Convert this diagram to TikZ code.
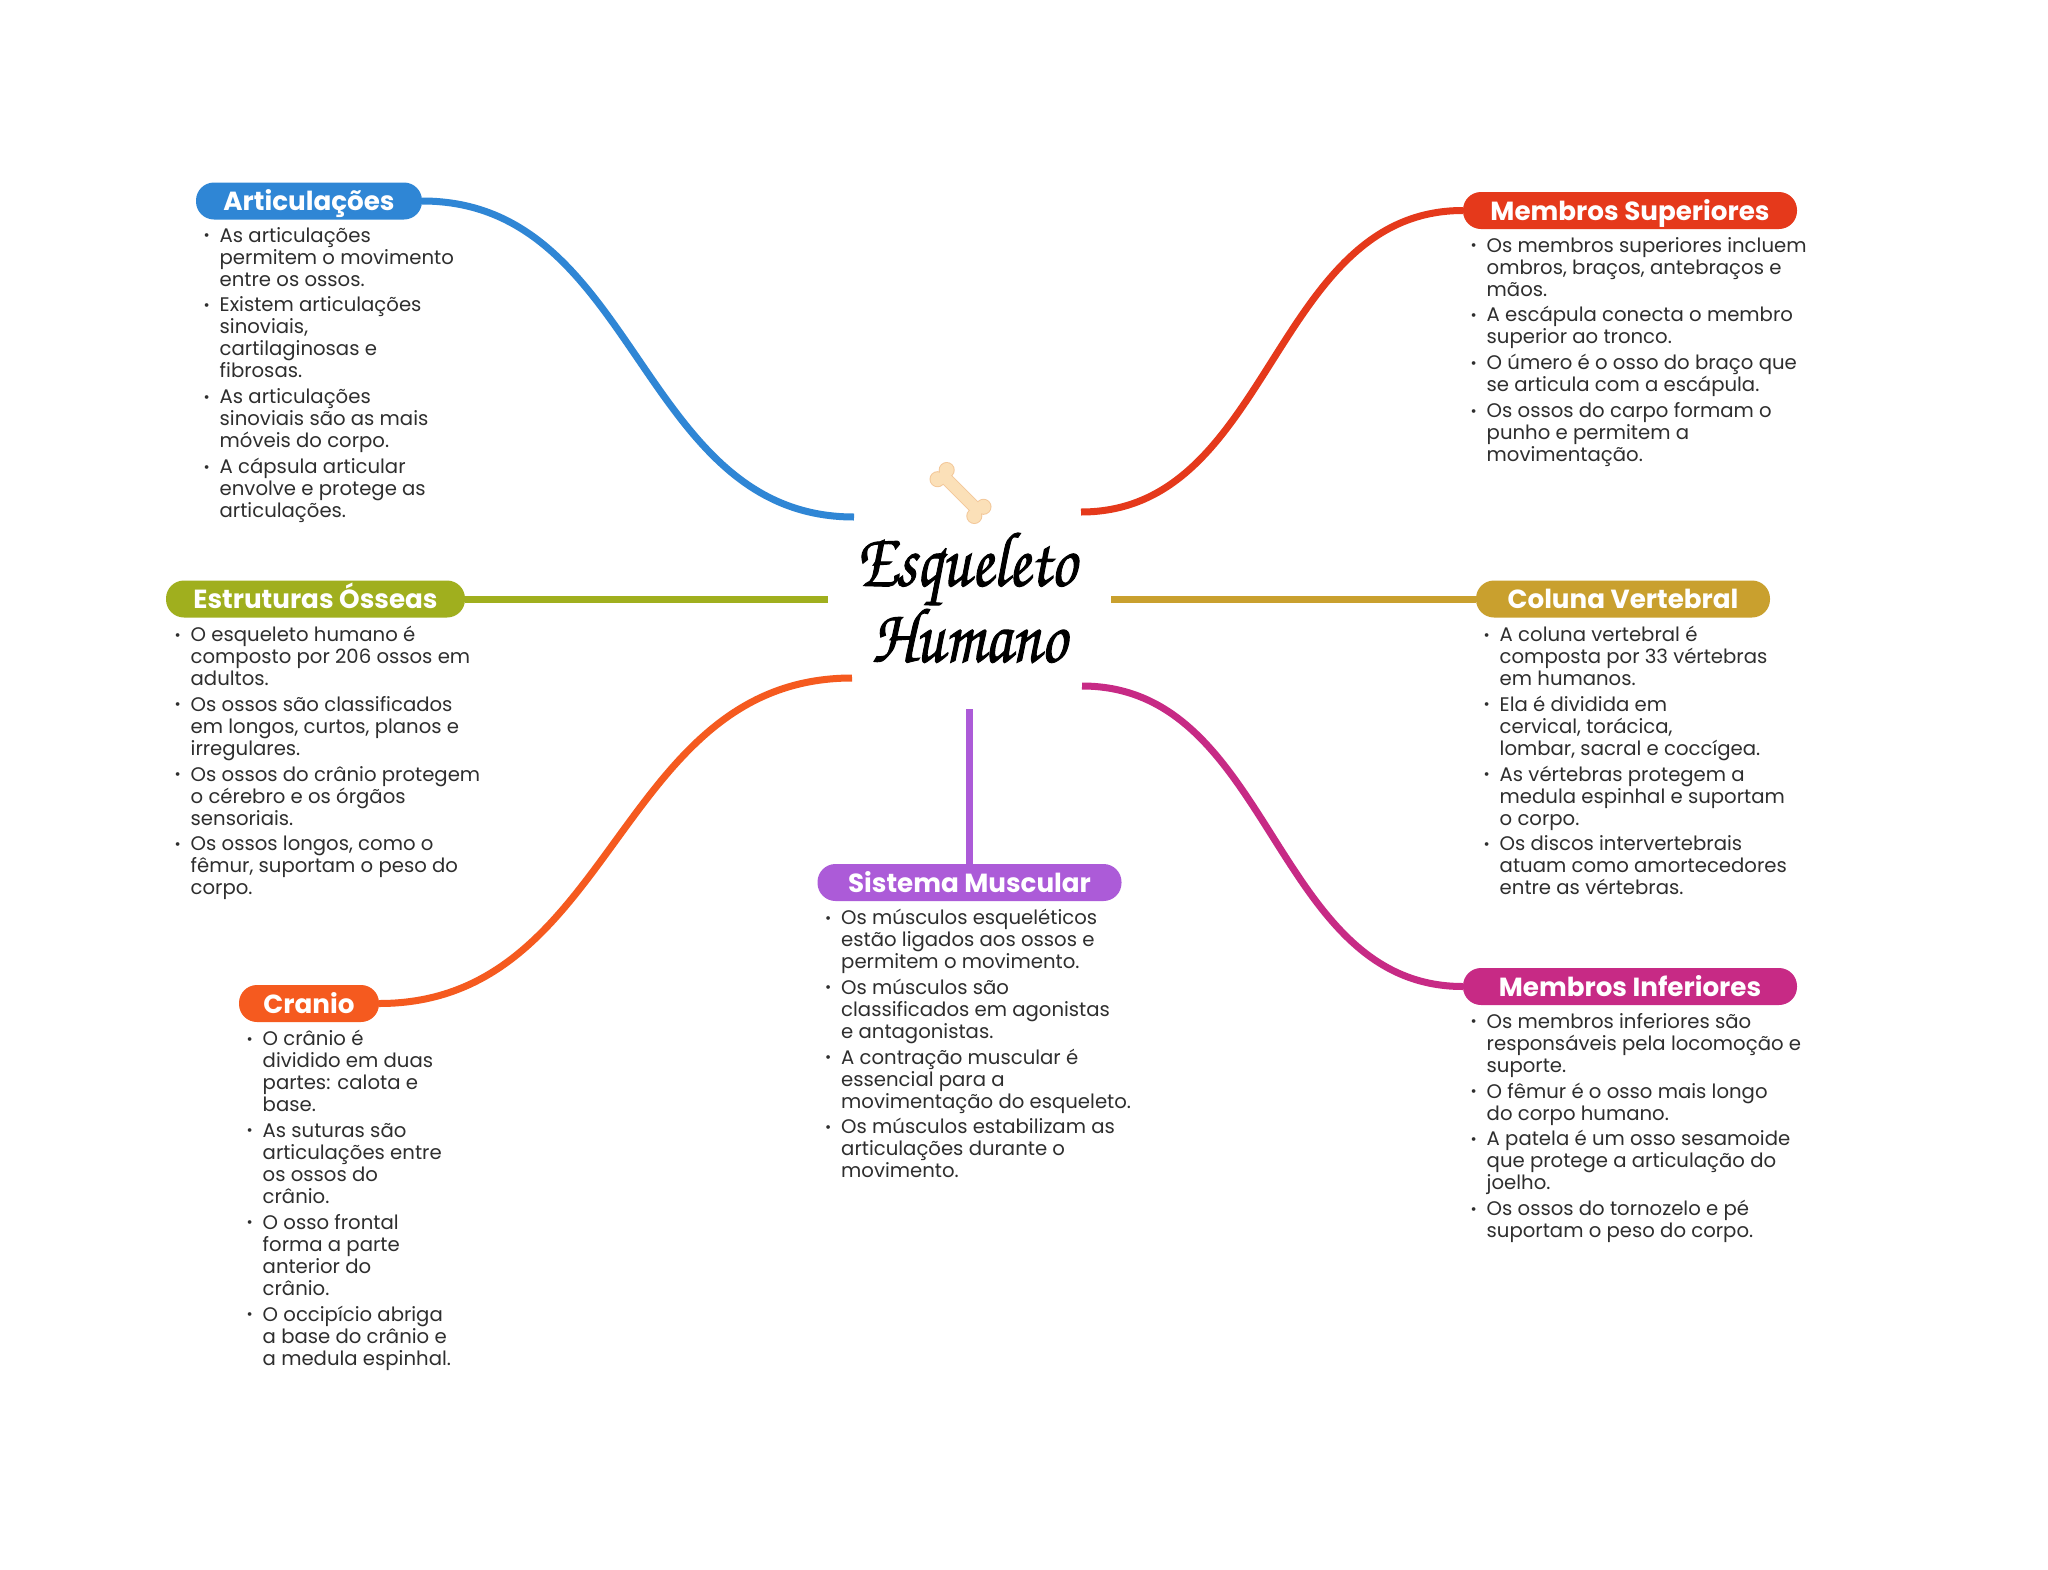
\documentclass[tikz,border=0pt]{standalone}
\usepackage{fontspec}
\setmainfont{Poppins}
\newfontfamily\chorusfont[FakeStretch=0.82,FakeBold=1.2]{TeX Gyre Chorus}
\definecolor{cblue}{HTML}{2F86D5}
\definecolor{cred}{HTML}{E5391B}
\definecolor{colive}{HTML}{A0AF1E}
\definecolor{cgold}{HTML}{C9A02E}
\definecolor{cpurple}{HTML}{AC5BD8}
\definecolor{corange}{HTML}{F55A1F}
\definecolor{cmagenta}{HTML}{C72A85}
\definecolor{ctext}{HTML}{2E2E2E}
\definecolor{bonefill}{HTML}{FBE0B8}
\definecolor{boneedge}{HTML}{F3C89A}
\newcommand{\itm}{\llap{\fontsize{15}{15}\selectfont\raisebox{1.5pt}{•}\hspace{10pt}}}
\newcommand{\nx}{\\[3.8pt]}
\newcommand{\boneknobs}{(26,-6.5) circle (7) (26,6.5) circle (7) (-26,-6.5) circle (7) (-26,6.5) circle (7)}
\tikzset{
  pill/.style={fill=#1,text=white,rounded corners=18pt,minimum height=37pt,inner sep=0pt,text height=21pt,text depth=2pt,font=\fontsize{26.2}{30}\selectfont\bfseries},
  conn/.style={draw=#1,line width=7pt},
  blocktext/.style={anchor=north west,inner sep=0pt,align=left,text=ctext,font=\fontsize{19.67}{22}\selectfont},
  titletext/.style={inner sep=0pt,font=\chorusfont\fontsize{78}{84}\selectfont}
}
\begin{document}
\begin{tikzpicture}[x=1pt,y=-1pt]
\useasboundingbox (0,0) rectangle (2048,1569);
\fill[white] (0,0) rectangle (2048,1569);
% hub connector ends
\coordinate (hA) at (854,517);
\coordinate (hB) at (1081,512);
\coordinate (hC) at (828,599);
\coordinate (hD) at (1111,599);
\coordinate (hE) at (852,678);
\coordinate (hF) at (1082,686);
\coordinate (hG) at (969.5,709);
% pills
\node[pill=cblue,minimum width=226pt] (art) at (309,201) {Articulações};
\node[pill=cred,minimum width=334pt] (sup) at (1630,210.5) {Membros Superiores};
\node[pill=colive,minimum width=299pt] (est) at (315.5,599) {Estruturas Ósseas};
\node[pill=cgold,minimum width=294pt] (col) at (1623,599) {Coluna Vertebral};
\node[pill=cpurple,minimum width=304pt] (mus) at (969.5,882.5) {Sistema Muscular};
\node[pill=corange,minimum width=140pt] (cra) at (309,1003.5) {Cranio};
\node[pill=cmagenta,minimum width=334pt] (inf) at (1630,986.5) {Membros Inferiores};
% connectors
\draw[conn=cblue] (art.east) .. controls +(216,0) and +(-216,0) .. (hA);
\draw[conn=cred] (hB) .. controls +(191,0) and +(-191,0) .. (sup.west);
\draw[conn=colive] (est.east) -- (hC);
\draw[conn=cgold] (hD) -- (col.west);
\draw[conn=corange] (hE) .. controls +(-236,0) and +(236,0) .. (cra.east);
\draw[conn=cmagenta] (hF) .. controls +(191,0) and +(-191,0) .. (inf.west);
\draw[conn=cpurple] (hG) -- (mus.north);
% title
\node[titletext] (t1) at (966,569) {Esqueleto};
\node[titletext] (t2) at (969,636) {Humano};
% bone
\begin{scope}[shift={(960.5,493)},rotate=-45]
\draw[boneedge,line width=2pt] (-27,-5.5) rectangle (27,5.5);
\draw[boneedge,line width=2pt] \boneknobs;
\fill[bonefill] (-27,-5.5) rectangle (27,5.5);
\fill[bonefill] \boneknobs;
\end{scope}
% text blocks
\node[blocktext] (artT) at (219.5,227) {\itm As articulações\\permitem o movimento\\entre os ossos.\nx
\itm Existem articulações\\sinoviais,\\cartilaginosas e\\fibrosas.\nx
\itm As articulações\\sinoviais são as mais\\móveis do corpo.\nx
\itm A cápsula articular\\envolve e protege as\\articulações.};
\node[blocktext] (supT) at (1486.5,237) {\itm Os membros superiores incluem\\ombros, braços, antebraços e\\mãos.\nx
\itm A escápula conecta o membro\\superior ao tronco.\nx
\itm O úmero é o osso do braço que\\se articula com a escápula.\nx
\itm Os ossos do carpo formam o\\punho e permitem a\\movimentação.};
\node[blocktext] (estT) at (190.5,626) {\itm O esqueleto humano é\\composto por 206 ossos em\\adultos.\nx
\itm Os ossos são classificados\\em longos, curtos, planos e\\irregulares.\nx
\itm Os ossos do crânio protegem\\o cérebro e os órgãos\\sensoriais.\nx
\itm Os ossos longos, como o\\fêmur, suportam o peso do\\corpo.};
\node[blocktext] (colT) at (1499.5,626) {\itm A coluna vertebral é\\composta por 33 vértebras\\em humanos.\nx
\itm Ela é dividida em\\cervical, torácica,\\lombar, sacral e coccígea.\nx
\itm As vértebras protegem a\\medula espinhal e suportam\\o corpo.\nx
\itm Os discos intervertebrais\\atuam como amortecedores\\entre as vértebras.};
\node[blocktext] (musT) at (841,909) {\itm Os músculos esqueléticos\\estão ligados aos ossos e\\permitem o movimento.\nx
\itm Os músculos são\\classificados em agonistas\\e antagonistas.\nx
\itm A contração muscular é\\essencial para a\\movimentação do esqueleto.\nx
\itm Os músculos estabilizam as\\articulações durante o\\movimento.};
\node[blocktext] (craT) at (262.5,1030) {\itm O crânio é\\dividido em duas\\partes: calota e\\base.\nx
\itm As suturas são\\articulações entre\\os ossos do\\crânio.\nx
\itm O osso frontal\\forma a parte\\anterior do\\crânio.\nx
\itm O occipício abriga\\a base do crânio e\\a medula espinhal.};
\node[blocktext] (infT) at (1486.5,1013) {\itm Os membros inferiores são\\responsáveis pela locomoção e\\suporte.\nx
\itm O fêmur é o osso mais longo\\do corpo humano.\nx
\itm A patela é um osso sesamoide\\que protege a articulação do\\joelho.\nx
\itm Os ossos do tornozelo e pé\\suportam o peso do corpo.};
\end{tikzpicture}
\end{document}
